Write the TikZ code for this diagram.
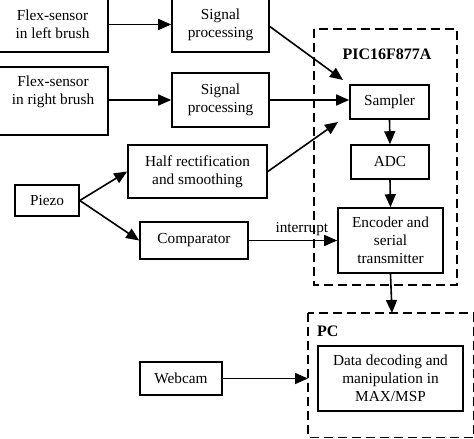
\documentclass[tikz,border=0pt]{standalone}
\usepackage{fontspec}
\setmainfont{Liberation Serif}
\usetikzlibrary{arrows.meta}
\begin{document}
\begin{tikzpicture}[x=1pt,y=-1pt,
  every node/.style={font=\fontsize{15.3}{18}\selectfont},
  blk/.style={draw,line width=1.6pt,inner sep=0pt,align=center},
  txt/.style={align=center,inner sep=0pt},
  grp/.style={draw,line width=1.7pt,dash pattern=on 9pt off 5pt},
  arr/.style={line width=1.6pt,-{Triangle[length=13pt,width=11pt]}},
  ttl/.style={font=\fontsize{16}{19}\selectfont\bfseries,inner sep=0pt}]
\useasboundingbox (0,0) rectangle (474,439);
% group boxes
\draw[grp] (314,29) rectangle (457,285);
\node[ttl] (pictitle) at (387,54) {PIC16F877A};
\draw[grp] (308,313) rectangle (473.5,437.5);
\coordinate (pctop) at (392,313);
\coordinate (pcleft) at (308,378.5);
\node[ttl,anchor=west] (pctitle) at (317,331) {PC};
% blocks
\node[blk,minimum width=111pt,minimum height=55pt] (flexL) at (52.5,24.5) {Flex-sensor\\in left brush};
\node[blk,minimum width=111pt,minimum height=68pt] (flexR) at (52.5,101) {};
\node[txt] (flexRt) at (53,92) {Flex-sensor\\in right brush};
\node[blk,minimum width=97pt,minimum height=55pt] (sig1) at (220.5,24.5) {Signal\\processing};
\node[blk,minimum width=97pt,minimum height=54pt] (sig2) at (220.5,100) {Signal\\processing};
\node[blk,minimum width=139pt,minimum height=53pt] (halfr) at (197.5,171.5) {Half rectification\\and smoothing};
\node[blk,minimum width=64pt,minimum height=31pt] (piezo) at (47,200.5) {Piezo};
\node[blk,minimum width=108pt,minimum height=37pt] (comp) at (194,240.5) {Comparator};
\node[blk,minimum width=79pt,minimum height=34pt] (sampler) at (389.5,102) {Sampler};
\node[blk,minimum width=78pt,minimum height=34pt] (adc) at (390,162) {ADC};
\node[blk,minimum width=105pt,minimum height=65pt] (enc) at (390.5,240.5) {Encoder and\\serial\\transmitter};
\node[blk,minimum width=145pt,minimum height=65pt] (data) at (390.5,378.5) {Data decoding and\\manipulation in\\MAX/MSP};
\node[blk,minimum width=82pt,minimum height=33pt] (webcam) at (181,378.5) {Webcam};
% connector ends
\coordinate (s1end) at (343,80);
\coordinate (hrend) at (338,122);
% connectors
\draw[arr] (flexL.east) -- (sig1.west);
\draw[arr] (flexR.east |- sig2.west) -- (sig2.west);
\draw[arr] (sig1.east) ++(0,2) -- (s1end);
\draw[arr] (sig2.east) -- (sampler.west |- sig2.east);
\draw[arr] (halfr.east) -- (hrend);
\draw[arr] (piezo.east) -- (halfr.west);
\draw[arr] (piezo.east) -- (comp.west);
\draw[arr] (comp.east) -- node[pos=0.6,above=4pt,inner sep=0pt] (intlbl) {interrupt} (enc.west);
\draw[arr] (sampler.south) -- (adc.north);
\draw[arr] (adc.south) -- (enc.north);
\draw[arr] (enc.south) -- (pctop);
\draw[arr] (webcam.east) -- (pcleft);
\end{tikzpicture}
\end{document}
